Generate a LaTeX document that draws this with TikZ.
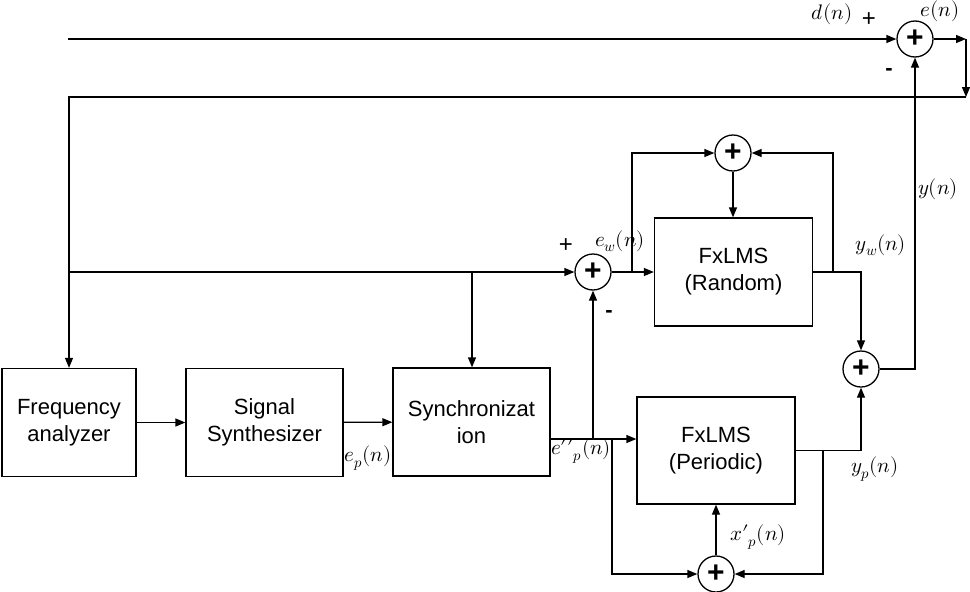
\documentclass[tikz,border=0pt]{standalone}
\usepackage{fontspec}
\usepackage{unicode-math}
\setmainfont{Liberation Sans}
\usetikzlibrary{arrows.meta,calc}
\tikzset{
  blk/.style={draw,line width=1.3pt,minimum width=#1,minimum height=108pt,
    align=center,inner sep=0pt,font=\fontsize{22}{27}\selectfont},
  adder/.style={draw,circle,line width=1.3pt,minimum size=36pt,inner sep=0pt,
    font=\fontsize{30}{30}\selectfont\bfseries},
  sig/.style={font=\fontsize{21}{24}\selectfont},
  sgn/.style={font=\fontsize{24}{24}\selectfont},
  sgnm/.style={font=\fontsize{22}{22}\selectfont\bfseries},
  wire/.style={line width=1.3pt},
  arr/.style={wire,-{Triangle[length=10pt,width=8pt]}}
}

\begin{document}
\begin{tikzpicture}[x=1pt,y=-1pt]
    \useasboundingbox (0,0) rectangle (970,592);
    \node[blk=134pt] (fa) at (69,422.5) {Frequency\\analyzer};
    \node[blk=157pt] (ss) at (264.5,422.5) {Signal\\Synthesizer};
    \node[blk=157pt] (sync) at (471.5,422) {Synchronizat\\ion};
    \node[blk=158pt] (rnd) at (733.5,272) {FxLMS\\(Random)};
    \node[blk=158pt,minimum height=107pt] (per) at (716,450.5) {FxLMS\\(Periodic)};
    \node[adder] (se) at (915,39) {+};
    \node[adder] (sw) at (593,272) {+};
    \node[adder] (st) at (733,153) {+};
    \node[adder] (sy) at (861,369) {+};
    \node[adder] (sb) at (716,574) {+};
    \coordinate (din) at (68,39);
    \coordinate (eo) at (966,39);
    \coordinate (ed) at (966,97);
    \coordinate (fb) at (69,97);
    \coordinate (xj) at (69,272);
    \coordinate (sj) at (472,272);
    \coordinate (wj) at (632,272);
    \coordinate (wt) at (632,153);
    \coordinate (ro) at (861,272);
    \coordinate (rj) at (833,272);
    \coordinate (rt) at (833,153);
    \coordinate (yo) at (915,369);
    \coordinate (po) at (550,439);
    \coordinate (pja) at (593,439);
    \coordinate (pjb) at (612,439);
    \coordinate (pb) at (612,574);
    \coordinate (qo) at (861,450.5);
    \coordinate (qj) at (823,450.5);
    \coordinate (qb) at (823,574);
    \draw[arr] (din) -- (se);
    \draw[arr] (se) -- (eo);
    \draw[arr] (eo) -- (ed);
    \draw[arr] (ed) -- (fb) -- (fa);
    \draw[arr] (xj) -- (sw);
    \draw[arr] (sj) -- (sj |- sync.north);
    \draw[arr] (sw) -- (rnd);
    \draw[arr] (wj) -- (wt) -- (st);
    \draw[arr] (st) -- (st |- rnd.north);
    \draw[arr] (rnd) -- (ro) -- (sy);
    \draw[arr] (rj) -- (rt) -- (st);
    \draw[arr] (sy) -- (yo) -- (se);
    \draw[arr] (fa) -- (ss);
    \draw[arr] (ss) -- (sync);
    \draw[arr] (sync.east |- po) -- (per.west |- po);
    \draw[arr] (pja) -- (sw);
    \draw[arr] (pjb) -- (pb) -- (sb);
    \draw[arr] (sb) -- (per);
    \draw[arr] (per) -- (qo) -- (sy);
    \draw[arr] (qj) -- (qb) -- (sb);
    \node[sig] (dl) at (832,14) {$d(n)$};
    \node[sgn] (dp) at (869,20) {+};
    \node[sig] (el) at (940,11) {$e(n)$};
    \node[sgnm] (em) at (889,72) {-};
    \node[sig] (ewl) at (620,241) {$e_w(n)$};
    \node[sgn] (wp) at (566,246) {+};
    \node[sgnm] (wm) at (609,314) {-};
    \node[sig] (ywl) at (881,245) {$y_w(n)$};
    \node[sig] (yl) at (938,189) {$y(n)$};
    \node[sig] (epl) at (368,458) {$e_p(n)$};
    \node[sig] (eppl) at (581,451) {$e{\prime\prime}_p(n)$};
    \node[sig] (xpl) at (758,537) {$x{\prime}_p(n)$};
    \node[sig] (ypl) at (875,469) {$y_p(n)$};
\end{tikzpicture}
\end{document}
